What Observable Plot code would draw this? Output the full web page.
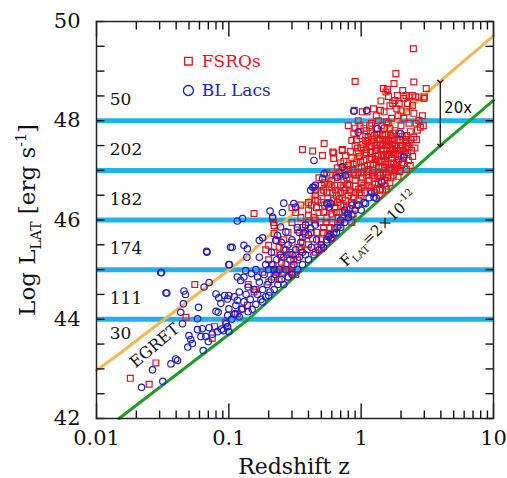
<!DOCTYPE html>
<!-- Fermi LAT luminosity vs redshift, revision 7 -->
<html><head><meta charset="utf-8">
<title>LAT luminosity vs redshift r7</title>
<script src="https://cdn.jsdelivr.net/npm/d3@7"></script>
<script src="https://cdn.jsdelivr.net/npm/@observablehq/plot@0.6"></script>
<style>body{margin:0;background:#fff}#chart{width:507px;height:478px}</style>
</head><body><div id="chart"></div>
<script>
// ---------- data ----------
const cyanLevels = [44, 45, 46, 47, 48];
const countLabels = ["50", "202", "182", "174", "111", "30"];
const countY = [48.43, 47.42, 46.42, 45.42, 44.41, 43.71];
const countZ = 0.0126;

const egretZ = [0.01, 0.0148, 0.138, 0.836, 3.96, 10];
const egretL = [42.97, 43.3, 45.28, 47.19, 48.8, 49.71];
const latZ = [0.0148, 0.138, 0.836, 3.96, 10];
const latL = [42.0, 43.98, 45.89, 47.5, 48.41];

const arrowZ = 3.96, arrowTop = 48.79, arrowBottom = 47.5;

const xMajor = [0.01, 0.1, 1, 10];
const xMinor = [0.02,0.03,0.04,0.05,0.06,0.07,0.08,0.09,0.2,0.3,0.4,0.5,0.6,0.7,0.8,0.9,2,3,4,5,6,7,8,9];
const yTicks = [42,42.5,43,43.5,44,44.5,45,45.5,46,46.5,47,47.5,48,48.5,49,49.5,50];
const yLabels = [42, 44, 46, 48, 50];

const fsrq = [
[2.48,49.45],[0.9,48.79],[1.83,48.95],[2.5,48.78],[1.47,48.65],[1.58,48.63],[1.54,48.58],[1.77,48.75],[2.06,48.61],[2.18,48.51],[2.3,48.48],[2.1,48.45],[2.44,48.51],[2.58,48.48],[3.0,48.48],[3.1,48.65],[1.88,48.51],[1.8,48.41],[1.94,48.35],[1.73,48.35],[2.24,48.35],[2.44,48.31],[2.73,48.48],[2.98,48.45],[1.61,48.49],[1.41,48.4],[1.65,48.3],
[0.886,48.21],[1.02,48.18],[1.11,48.18],[1.24,48.24],[1.4,48.21],[1.49,48.18],[1.86,48.24],[2.0,48.2],[2.2,48.18],[2.5,48.15],[2.73,48.01],[2.8,47.87],[2.66,47.81],[2.5,47.67],[2.3,47.95],[2.1,48.05],[1.9,48.1],[1.7,48.05],[1.55,47.98],[1.35,48.0],[1.2,47.95],[0.95,48.0],[0.8,47.9],[1.05,47.85],[1.3,48.1],[1.65,47.85],[2.0,47.9],[2.35,47.78],[2.6,47.95],[2.9,48.1],[2.95,47.9],[2.2,47.7],[1.8,47.8],
[0.62,47.35],[0.62,47.24],[0.72,47.42],[0.61,47.37],[0.72,47.4],[0.76,47.3],[0.51,47.3],[0.525,47.54],[0.36,47.42],[0.43,47.39],
[0.85,47.6],[0.9,47.5],[0.95,47.35],[0.98,47.7],[1.0,47.45],[1.05,47.2],[1.08,47.6],[1.1,47.35],[1.12,47.1],[1.15,47.5],[1.18,47.75],[1.2,47.25],[1.22,47.0],[1.25,47.55],[1.28,47.4],[1.3,47.15],[1.32,47.65],[1.35,47.3],[1.38,46.95],[1.4,47.5],[1.42,47.2],[1.45,47.7],[1.48,47.4],[1.5,47.05],[1.52,47.55],[1.55,47.3],[1.6,47.15],[1.62,47.6],[1.65,47.45],[1.7,47.25],[1.72,47.65],[1.75,47.35],[1.8,47.5],[1.85,47.15],[1.9,47.4],[1.95,47.6],[2.0,47.3],[2.05,47.5],[2.1,47.15],[2.15,47.45],[2.25,47.35],[2.3,47.55],[2.4,47.4],[1.83,47.07],[1.88,47.07],
[0.8,47.1],[0.85,47.25],[0.88,46.95],[0.92,47.15],[0.75,47.0],[0.7,47.15],[0.78,46.85],[0.82,46.7],[0.9,46.8],[0.95,46.95],[1.0,47.05],[1.02,46.85],[1.05,46.7],[1.1,46.9],[1.15,46.8],[1.2,46.65],[1.25,46.85],[1.3,46.6],[1.35,46.75],[1.4,46.9],[1.45,46.6],[1.5,46.8],[1.6,46.9],[1.7,47.0],[1.1,47.8],[0.9,47.85],[1.3,47.85],[1.5,47.85],
[0.92,47.62],[0.97,47.28],[1.03,47.52],[1.06,47.08],[1.09,47.42],[1.13,47.66],[1.16,47.22],[1.19,47.48],[1.23,47.12],[1.26,47.7],[1.29,47.28],[1.33,47.5],[1.36,47.08],[1.39,47.62],[1.43,47.32],[1.46,47.52],[1.49,47.18],[1.53,47.72],[1.57,47.4],[1.6,47.58],[1.64,47.05],[1.68,47.35],[1.72,47.52],[1.76,47.12],[1.82,47.32],[1.87,47.62],[1.92,47.22],[1.98,47.45],[2.04,47.68],[2.12,47.32],[2.2,47.55],[2.28,47.2],[2.38,47.62],[2.45,47.28],[2.55,47.45],[2.62,47.62],
[0.96,46.62],[1.01,46.75],[1.07,46.55],[1.12,46.98],[1.17,46.58],[1.21,46.9],[1.27,46.72],[1.33,46.9],[1.37,46.5],[1.42,46.78],[1.47,46.95],[1.55,46.62],[1.58,46.85],[1.65,46.75],[1.75,46.9],[1.8,47.02],[1.95,46.98],[2.02,47.12],[2.2,47.02],[2.35,47.1],
[0.66,47.05],[0.7,46.88],[0.74,47.18],[0.78,47.02],[0.83,47.38],[0.87,47.12],[0.91,46.9],[0.94,47.45],[0.99,47.18],[1.04,46.95],[1.07,47.35],[1.11,47.58],[1.14,47.02],[1.18,47.38],[1.21,47.62],[1.24,46.95],[1.27,47.22],[1.31,47.45],[1.34,47.72],[1.37,47.18],[1.41,47.42],[1.44,47.05],[1.47,47.28],[1.51,47.62],[1.54,47.12],[1.58,47.5],[1.61,47.32],[1.66,47.7],[1.69,47.15],[1.73,47.42],[1.78,47.6],[1.84,47.45],[1.89,47.28],[1.93,47.75],[2.08,47.4],[2.16,47.62],[2.25,47.48],[0.88,47.75],[0.98,47.9],[1.16,47.9],[1.42,47.9],[1.6,47.95],[1.75,47.75],[0.86,47.02],[1.0,46.65],[1.13,46.7],[1.26,46.55],[1.38,46.62],[1.52,46.68],[1.68,46.85],[1.9,46.88],
[0.55,46.95],[0.6,46.8],[0.65,46.9],[0.5,46.7],[0.55,46.55],[0.6,46.65],[0.65,46.5],[0.7,46.7],[0.72,46.45],[0.75,46.6],[0.8,46.5],[0.85,46.35],[0.9,46.55],[0.95,46.4],[1.0,46.5],[0.78,46.25],[0.7,46.3],[0.62,46.4],[0.58,46.2],[0.5,46.35],[0.45,46.5],[0.42,46.3],[0.48,46.15],[0.55,46.05],[0.65,46.15],[0.72,46.05],[0.8,46.1],[0.85,45.95],[0.68,45.9],[0.6,45.95],[0.52,45.85],[0.45,46.0],[0.4,46.1],[0.38,45.9],[0.35,46.05],[0.33,45.8],[0.3,45.95],[0.32,46.15],[0.28,45.75],[0.36,45.65],[0.42,45.75],[0.5,45.6],[0.56,45.7],[0.47,45.45],[0.4,45.5],[0.35,45.4],[0.3,45.55],[0.26,45.6],[0.24,45.45],[0.28,45.3],[0.33,45.2],[0.22,45.35],[0.25,45.15],[0.2,45.2],[0.22,45.0],[0.26,44.95],[0.3,45.05],[0.18,44.95],[0.2,44.75],[0.24,44.8],[0.28,44.85],[0.32,44.9],[0.16,44.6],[0.14,44.7],[0.155,44.55],[0.127,44.21],[0.138,44.28],
[0.48,46.85],[0.53,46.75],[0.58,46.9],[0.63,46.7],[0.68,46.95],[0.74,46.8],[0.8,46.92],[0.5,46.55],[0.56,46.45],[0.61,46.55],[0.66,46.35],[0.7,46.55],[0.76,46.4],[0.82,46.6],[0.88,46.45],[0.46,46.25],[0.52,46.15],[0.57,46.35],[0.63,46.25],[0.69,46.15],[0.74,46.3],[0.4,46.2],[0.44,46.05],[0.49,45.95],[0.55,45.95],
[0.52,46.6],[0.57,46.72],[0.64,46.6],[0.68,46.42],[0.73,46.65],[0.79,46.72],[0.84,46.55],[0.9,46.68],[0.45,46.4],[0.53,46.3],[0.6,46.12],[0.67,46.05],[0.75,46.15],[0.82,46.22],[0.87,46.12],[0.92,46.3],[0.97,46.55],[0.4,45.95],[0.46,45.75],[0.52,45.75],[0.58,45.85],[0.63,45.82],[0.7,45.95],[0.36,45.85],[0.43,45.62],[0.39,45.4],[0.45,45.35],[0.5,45.42],[0.55,45.55],[0.6,45.65],
[0.21,45.1],[0.23,44.95],[0.25,45.25],[0.27,45.1],[0.29,45.35],[0.31,45.2],[0.26,45.4],[0.34,45.45],[0.24,45.0],[0.28,45.0],[0.32,45.3],[0.36,45.55],[0.38,45.7],[0.22,44.85],[0.3,44.95],
[0.155,46.13],[0.214,46.03],[0.218,45.95],[0.22,45.89],[0.3,46.25],[0.35,46.3],[0.4,46.35],[0.45,46.6],[0.47,46.4],[0.2,45.49],[0.23,45.59],[0.19,45.4],[0.22,45.73],
[0.0553,44.70],[0.0474,44.04],[0.075,43.62],[0.078,43.85],[0.095,43.94],[0.0281,43.12],[0.018,42.81],[0.025,42.69],[0.116,44.11]
];

const bllac = [
[0.88,48.19],[1.1,48.21],[0.525,46.93],[0.51,46.83],[1.33,47.84],[0.95,47.77],[1.99,47.74],[2.1,47.27],[1.25,46.46],[1.3,46.44],[1.08,46.33],[0.59,46.33],[0.57,46.26],[0.66,46.86],[0.72,47.07],[1.44,46.76],[0.76,46.9],[0.44,47.2],[0.44,46.66],[0.415,46.6],[0.31,46.33],[0.26,46.34],[0.205,46.18],[0.254,46.15],[0.116,45.98],[0.127,46.03],[0.068,45.37],[0.031,44.94],[0.034,44.53],[0.101,45.1],[0.103,45.45],[0.13,45.49],[0.138,45.42],[0.137,45.25],[0.17,45.59],[0.18,45.64],[0.415,45.84],[0.37,45.74],[0.57,45.66],[0.62,45.72],[0.59,45.62],[0.79,46.13],[0.43,46.66],[0.45,46.7],[0.32,46.26],[0.214,46.06],[0.233,45.69],[0.226,45.59],[0.246,45.86],[0.27,45.76],[0.55,46.33],
[0.1,43.75],[0.098,43.85],[0.097,43.85],[0.091,43.77],[0.095,43.91],[0.098,44.08],[0.1,44.21],[0.113,44.28],[0.116,44.38],[0.123,44.78],[0.13,44.85],[0.116,44.85],[0.105,44.0],[0.11,44.1],[0.12,44.05],[0.125,44.2],[0.13,44.35],[0.135,44.5],[0.14,44.15],[0.145,44.4],[0.12,44.55],[0.11,44.45],[0.14,44.65],[0.148,44.92],[0.134,44.98],[0.1,44.48],[0.112,44.11],
[0.15,44.2],[0.16,44.3],[0.165,44.5],[0.17,44.75],[0.175,44.4],[0.18,44.6],[0.185,44.9],[0.19,44.45],[0.195,44.7],[0.2,45.0],[0.205,44.55],[0.21,44.8],[0.215,45.1],[0.22,44.6],[0.225,44.9],[0.23,45.2],[0.235,44.7],[0.24,45.0],[0.245,45.3],[0.25,44.8],[0.16,45.0],[0.17,45.25],[0.18,44.35],[0.19,45.1],[0.2,44.48],[0.155,44.6],[0.165,44.85],[0.21,45.35],[0.22,45.0],
[0.26,44.7],[0.27,45.0],[0.28,44.85],[0.29,45.2],[0.3,44.9],[0.31,45.1],[0.32,45.4],[0.33,45.0],[0.34,45.25],[0.35,45.55],[0.36,45.1],[0.38,45.3],[0.4,45.2],[0.42,45.45],[0.44,45.3],[0.46,45.6],[0.48,45.4],[0.5,45.5],[0.52,45.45],[0.55,45.6],[0.58,45.7],[0.65,45.75],[0.7,45.85],[0.27,45.4],[0.3,45.6],[0.26,45.25],[0.28,45.5],[0.34,45.75],[0.38,45.9],[0.45,45.9],[0.25,45.55],[0.3,45.3],[0.36,45.35],[0.4,45.7],[0.33,45.85],
[0.75,45.95],[0.8,46.05],[0.85,46.1],[0.9,46.2],[0.95,46.3],[1.0,46.2],[1.05,46.35],[0.7,46.0],[0.66,45.85],[1.2,46.55],[1.15,46.45],[0.85,46.3],[0.75,46.2],
[0.0683,45.35],[0.0306,44.94],[0.0335,44.53],[0.0458,44.57],[0.047,44.5],[0.0454,44.31],[0.0433,44.14],[0.059,44.24],[0.071,44.74],[0.065,44.65],[0.0446,43.91],[0.05,43.67],[0.0515,43.59],[0.049,43.44],[0.053,43.51],[0.058,44.01],[0.058,43.79],[0.063,43.81],[0.071,43.83],[0.067,43.65],[0.0615,43.65],[0.064,43.37],[0.0397,43.2],[0.041,43.17],[0.0365,43.1],[0.0265,42.98],[0.0317,42.75],[0.0219,42.63],[0.08,44.51],[0.084,44.43],[0.093,44.48],[0.0976,44.41],[0.087,44.32],[0.08,44.16],[0.083,44.14],[0.1,45.1],[0.106,45.45],[0.075,43.7],[0.082,43.75],[0.088,43.8],[0.07,43.55]
];

// ---------- chart ----------
const serif = "DejaVu Serif";
const red = "#e3141c", blue = "#1c1cd2";
const W = 507, H = 478, mL = 96, mR = 14, mT = 21, mB = 60;
const minorPx = 8, majorPx = 15;
// tick lengths expressed in data units of each scale (log decades for x, luminosity units for y)
const xPerPx = 3 / (W - mL - mR), yPerPx = 8 / (H - mT - mB);
const xIn = px => Math.pow(10, px * xPerPx);
const egretLine = egretZ.map((z, i) => ({z, L: egretL[i]}));
const latLine = latZ.map((z, i) => ({z, L: latL[i]}));
const counts = countLabels.map((t, i) => ({t, L: countY[i]}));
const tk = {stroke: "#111", strokeWidth: 1.4};

const plot = Plot.plot({
  width: W, height: H,
  marginLeft: mL, marginRight: mR, marginTop: mT, marginBottom: mB,
  style: {fontFamily: serif, background: "white", color: "#111"},
  x: {type: "log", domain: [0.01, 10]},
  y: {domain: [42, 50]},
  marks: [
    Plot.ruleY(cyanLevels, {stroke: "#1eb4ea", strokeWidth: 5}),
    Plot.line(egretLine, {x: "z", y: "L", stroke: "#f5b650", strokeWidth: 3}),
    Plot.line(latLine, {x: "z", y: "L", stroke: "#1d9e22", strokeWidth: 3}),
    Plot.dot(fsrq, {x: d => d[0], y: d => d[1], symbol: "square", r: 3.3, stroke: red, strokeWidth: 1.2}),
    Plot.dot(bllac, {x: d => d[0], y: d => d[1], symbol: "circle", r: 3.2, stroke: blue, strokeWidth: 1.2}),
    Plot.text(counts, {x: countZ, y: "L", text: "t", textAnchor: "start", fontSize: 17, fill: "#111"}),
    Plot.text(["EGRET"], {x: 0.0275, y: 43.47, text: d => d, rotate: -40, fontSize: 16, fill: "#111"}),
    Plot.link([0], {x1: arrowZ, x2: arrowZ, y1: arrowTop, y2: arrowBottom, stroke: "#111", strokeWidth: 1.3, markerStart: "arrow", markerEnd: "arrow"}),
    Plot.text(["20x"], {x: 5.4, y: 48.26, text: d => d, fontFamily: "DejaVu Sans", fontSize: 15, fill: "#111"}),
    Plot.dot([0], {x: 0.0495, y: 49.2, symbol: "square", r: 4.3, stroke: red, strokeWidth: 1.3}),
    Plot.text(["FSRQs"], {x: 0.0625, y: 49.2, text: d => d, textAnchor: "start", fontSize: 17, fill: red}),
    Plot.dot([0], {x: 0.0495, y: 48.61, symbol: "circle", r: 5, stroke: blue, strokeWidth: 1.3}),
    Plot.text(["BL Lacs"], {x: 0.0625, y: 48.61, text: d => d, textAnchor: "start", fontSize: 17, fill: blue}),
    // inward ticks on the four sides, as links in data space
    Plot.link(yTicks, {x1: 0.01, x2: 0.01 * xIn(minorPx), y1: d => d, y2: d => d, ...tk}),
    Plot.link(yTicks, {x1: 10, x2: 10 / xIn(minorPx), y1: d => d, y2: d => d, ...tk}),
    Plot.link(xMinor, {x1: d => d, x2: d => d, y1: 42, y2: 42 + minorPx * yPerPx, ...tk}),
    Plot.link(xMinor, {x1: d => d, x2: d => d, y1: 50, y2: 50 - minorPx * yPerPx, ...tk}),
    Plot.link(xMajor, {x1: d => d, x2: d => d, y1: 42, y2: 42 + majorPx * yPerPx, ...tk}),
    Plot.link(xMajor, {x1: d => d, x2: d => d, y1: 50, y2: 50 - majorPx * yPerPx, ...tk}),
    Plot.frame({stroke: "#222", strokeWidth: 1.5}),
    Plot.axisY(yLabels, {anchor: "left", tickSize: 0, tickPadding: 16, fontSize: 21, tickFormat: d => String(d), label: null}),
    Plot.axisX(xMajor, {anchor: "bottom", tickSize: 0, tickPadding: 12, fontSize: 21, tickFormat: d => String(d), label: null})
  ]
});
document.getElementById("chart").appendChild(plot);

const svg = d3.select(plot);
const sx = plot.scale("x"), sy = plot.scale("y");

// rich-text labels (subscripts / superscripts)
const yt = svg.append("text")
  .attr("transform", "translate(35,220) rotate(-90)")
  .attr("text-anchor", "middle").attr("font-size", 23).attr("fill", "#111").attr("font-family", serif);
yt.append("tspan").text("Log L");
yt.append("tspan").attr("font-size", 14).attr("dy", 6).text("LAT");
yt.append("tspan").attr("dy", -6).text(" [erg s");
yt.append("tspan").attr("font-size", 14).attr("dy", -9).text("-1");
yt.append("tspan").attr("dy", 9).text("]");

svg.append("text")
  .attr("x", 294).attr("y", 474).attr("text-anchor", "middle")
  .attr("font-size", 22).attr("fill", "#111").attr("font-family", serif)
  .text("Redshift z");

const fl = svg.append("text")
  .attr("transform", `translate(${sx.apply(1.45)},${sy.apply(45.74)}) rotate(-44)`)
  .attr("text-anchor", "middle").attr("font-size", 15).attr("fill", "#111").attr("font-family", serif);
fl.append("tspan").text("F");
fl.append("tspan").attr("font-size", 10).attr("dy", 4).text("LAT");
fl.append("tspan").attr("dy", -4).text("=2\u00d710");
fl.append("tspan").attr("font-size", 10).attr("dy", -7).text("-12");
</script>
</body></html>
